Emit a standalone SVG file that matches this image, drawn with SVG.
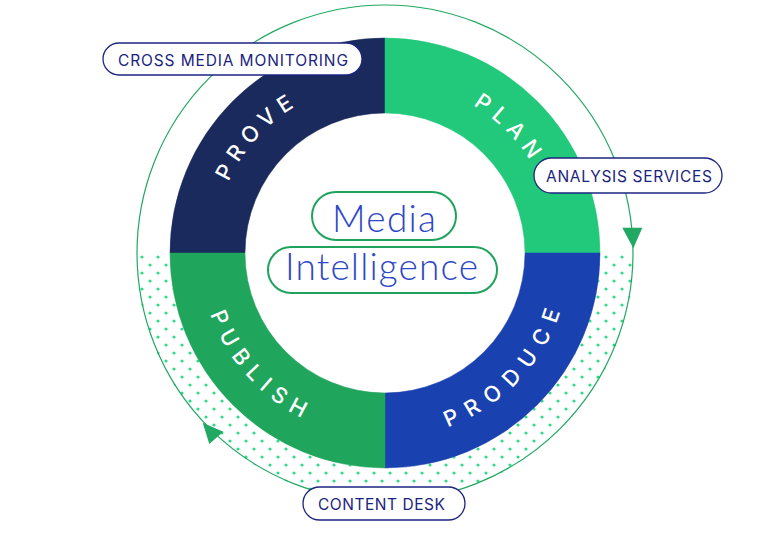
<svg xmlns="http://www.w3.org/2000/svg" xmlns:xlink="http://www.w3.org/1999/xlink" width="767" height="540" viewBox="0 0 767 540">
<style>
.seg-label{font-family:Inter,"Liberation Sans",sans-serif;font-weight:500;font-size:22px;fill:#ffffff;letter-spacing:7px;}
.pill{fill:#ffffff;stroke:#1c2580;stroke-width:1.3;}
.pill-text{font-family:Inter,"Liberation Sans",sans-serif;font-size:15.5px;fill:#1a237e;}
.center-pill{fill:#ffffff;stroke:#1fa35c;stroke-width:2;}
.center-text{font-family:Lato,Inter,"Liberation Sans",sans-serif;font-weight:300;font-size:37px;fill:#2d47c6;}
.ring-line{fill:none;stroke:#22a862;stroke-width:1.2;}
.arrow{fill:#21a862;}
</style>
<defs>
<pattern id="dots" patternUnits="userSpaceOnUse" x="2" y="5" width="16" height="16">
<circle cx="4" cy="4" r="1.6" fill="#2fd98a"/>
<circle cx="12" cy="12" r="1.6" fill="#2fd98a"/>
</pattern>
<path id="arc-prove" d="M 221.9 304.4 A 170 170 0 0 1 422.0 86.1"/>
<path id="arc-plan" d="M 337.9 88.6 A 170 170 0 0 1 550.9 294.4"/>
<path id="arc-produce" d="M 340.2 432.5 A 185 185 0 0 0 562.8 202.0"/>
<path id="arc-publish" d="M 208.6 197.4 A 185 185 0 0 0 425.0 433.6"/>
</defs>
<rect width="767" height="540" fill="#ffffff"/>

<path d="M 136 253 A 249 249 0 0 0 634 253 L 600 253 A 215 215 0 0 1 170 253 Z" fill="url(#dots)"/>

<g id="connectors">
<circle class="ring-line" cx="385" cy="253" r="248"/>
<polygon class="arrow" points="622.3,227.7 642.3,227.7 633.3,248.3"/>
<polygon class="arrow" points="202.7,422.7 223.3,431.7 209.3,444"/>
</g>

<g id="prove">
<path d="M 170 253 A 215 215 0 0 1 385 38 L 385 113 A 140 140 0 0 0 245 253 Z" fill="#1b2a5c" stroke="#1b2a5c" stroke-width="0.5"/>
<text class="seg-label"><textPath xlink:href="#arc-prove" href="#arc-prove" startOffset="50%" text-anchor="middle">PROVE</textPath></text>
</g>
<g id="plan">
<path d="M 385 38 A 215 215 0 0 1 600 253 L 525 253 A 140 140 0 0 0 385 113 Z" fill="#22c97a" stroke="#22c97a" stroke-width="0.5"/>
<text class="seg-label"><textPath xlink:href="#arc-plan" href="#arc-plan" startOffset="51%" text-anchor="middle">PLAN</textPath></text>
</g>
<g id="produce">
<path d="M 600 253 A 215 215 0 0 1 385 468 L 385 393 A 140 140 0 0 0 525 253 Z" fill="#1a41b0" stroke="#1a41b0" stroke-width="0.5"/>
<text class="seg-label" style="letter-spacing:10px"><textPath xlink:href="#arc-produce" href="#arc-produce" startOffset="51%" text-anchor="middle">PRODUCE</textPath></text>
</g>
<g id="publish">
<path d="M 385 468 A 215 215 0 0 1 170 253 L 245 253 A 140 140 0 0 0 385 393 Z" fill="#20a55d" stroke="#20a55d" stroke-width="0.5"/>
<text class="seg-label" style="letter-spacing:8px"><textPath xlink:href="#arc-publish" href="#arc-publish" startOffset="50%" text-anchor="middle">PUBLISH</textPath></text>
</g>

<g id="media">
<rect class="center-pill" x="312" y="192" width="144" height="48" rx="24"/>
<text class="center-text" x="332" y="232" textLength="104">Media</text>
</g>
<g id="intelligence">
<rect class="center-pill" x="268" y="247" width="229" height="46" rx="23"/>
<text class="center-text" x="285" y="280" textLength="193">Intelligence</text>
</g>

<g id="cross-media-monitoring">
<rect class="pill" x="103" y="43" width="259" height="32" rx="16"/>
<text class="pill-text" x="118" y="65.5" textLength="230">CROSS MEDIA MONITORING</text>
</g>
<g id="analysis-services">
<rect class="pill" x="534" y="158" width="188" height="35" rx="17.5"/>
<text class="pill-text" x="546" y="182" textLength="166">ANALYSIS SERVICES</text>
</g>
<g id="content-desk">
<rect class="pill" x="303" y="487" width="162" height="33" rx="16.5"/>
<text class="pill-text" x="318" y="510" textLength="127">CONTENT DESK</text>
</g>
</svg>
